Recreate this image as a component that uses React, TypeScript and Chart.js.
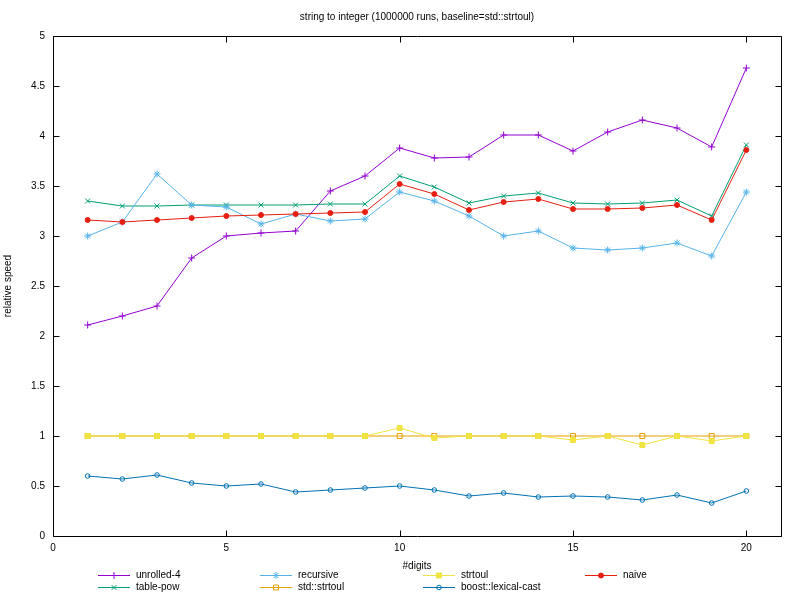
import { useEffect, useRef } from "react"
import { Chart, registerables } from "chart.js"
import { drawPoint } from "chart.js/helpers"

Chart.register(...registerables)

const digits = [1, 2, 3, 4, 5, 6, 7, 8, 9, 10, 11, 12, 13, 14, 15, 16, 17, 18, 19, 20]
const xTicks = [0, 5, 10, 15, 20]

const unrolled4 = [2.11, 2.2, 2.3, 2.78, 3.0, 3.03, 3.05, 3.45, 3.6, 3.88, 3.78, 3.79, 4.01, 4.01, 3.85, 4.04, 4.16, 4.08, 3.89, 4.68]
const tablePow = [3.35, 3.3, 3.3, 3.31, 3.31, 3.31, 3.31, 3.32, 3.32, 3.6, 3.49, 3.33, 3.4, 3.43, 3.33, 3.32, 3.33, 3.36, 3.2, 3.91]
const recursive = [3.0, 3.14, 3.62, 3.31, 3.29, 3.12, 3.22, 3.15, 3.17, 3.44, 3.35, 3.2, 3.0, 3.05, 2.88, 2.86, 2.88, 2.93, 2.8, 3.44]
const stdStrtoul = [1, 1, 1, 1, 1, 1, 1, 1, 1, 1, 1, 1, 1, 1, 1, 1, 1, 1, 1, 1]
const strtoul = [1, 1, 1, 1, 1, 1, 1, 1, 1, 1.08, 0.98, 1, 1, 1, 0.96, 1, 0.91, 1, 0.95, 1]
const boostLexical = [0.6, 0.57, 0.61, 0.53, 0.5, 0.52, 0.44, 0.46, 0.48, 0.5, 0.46, 0.4, 0.43, 0.39, 0.4, 0.39, 0.36, 0.41, 0.33, 0.45]
const naive = [3.16, 3.14, 3.16, 3.18, 3.2, 3.21, 3.22, 3.23, 3.24, 3.52, 3.42, 3.26, 3.34, 3.37, 3.27, 3.27, 3.28, 3.31, 3.16, 3.86]

const FONT = { family: '"Liberation Sans", Arial, sans-serif', size: 10 }

interface SeriesDef {
  label: string
  values: number[]
  color: string
  pointStyle: string
  radius: number
  fill: string
}

const series: SeriesDef[] = [
  { label: "unrolled-4", values: unrolled4, color: "#9400d3", pointStyle: "cross", radius: 3.5, fill: "#9400d3" },
  { label: "table-pow", values: tablePow, color: "#009e73", pointStyle: "crossRot", radius: 3.5, fill: "#009e73" },
  { label: "recursive", values: recursive, color: "#56b4e9", pointStyle: "star", radius: 3.5, fill: "#56b4e9" },
  { label: "std::strtoul", values: stdStrtoul, color: "#e69f00", pointStyle: "rect", radius: 3.5, fill: "rgba(0,0,0,0)" },
  { label: "strtoul", values: strtoul, color: "#f0e442", pointStyle: "rect", radius: 3.5, fill: "#f0e442" },
  { label: "boost::lexical-cast", values: boostLexical, color: "#0072b2", pointStyle: "circle", radius: 2.3, fill: "rgba(0,0,0,0)" },
  { label: "naive", values: naive, color: "#e51e10", pointStyle: "circle", radius: 2.5, fill: "#e51e10" },
]

// gnuplot-style box with inward ticks on all four sides
const framePlugin = {
  id: "frame",
  afterDatasetsDraw(chart: any) {
    const { ctx, chartArea: a, scales } = chart
    const px = (v: number) => Math.round(v) + 0.5
    ctx.save()
    ctx.strokeStyle = "#000"
    ctx.lineWidth = 1
    ctx.beginPath()
    ctx.rect(px(a.left), px(a.top), Math.round(a.right) - Math.round(a.left), Math.round(a.bottom) - Math.round(a.top))
    for (const t of scales.x.ticks) {
      const x = px(scales.x.getPixelForValue(t.value))
      ctx.moveTo(x, px(a.bottom)); ctx.lineTo(x, px(a.bottom) - 6)
      ctx.moveTo(x, px(a.top)); ctx.lineTo(x, px(a.top) + 6)
    }
    for (const t of scales.y.ticks) {
      const y = px(scales.y.getPixelForValue(t.value))
      ctx.moveTo(px(a.left), y); ctx.lineTo(px(a.left) + 6, y)
      ctx.moveTo(px(a.right), y); ctx.lineTo(px(a.right) - 6, y)
    }
    ctx.stroke()
    ctx.restore()
  },
}

// key below the plot, filled column by column (2 rows)
const keyPlugin = {
  id: "key",
  afterDraw(chart: any) {
    const { ctx } = chart
    const colX = [98, 260, 423, 585]
    const rowY = [575, 587]
    ctx.save()
    ctx.font = `${FONT.size}px ${FONT.family}`
    ctx.textBaseline = "middle"
    ctx.textAlign = "left"
    chart.data.datasets.forEach((ds: any, i: number) => {
      const x0 = colX[Math.floor(i / 2)]
      const y = rowY[i % 2] + 0.5
      ctx.strokeStyle = ds.borderColor
      ctx.lineWidth = 1
      ctx.beginPath()
      ctx.moveTo(x0, y)
      ctx.lineTo(x0 + 32, y)
      ctx.stroke()
      ctx.fillStyle = ds.pointBackgroundColor
      drawPoint(ctx, { pointStyle: ds.pointStyle, radius: ds.pointRadius, borderWidth: 1, rotation: 0 }, x0 + 16, y)
      ctx.fillStyle = "#000"
      ctx.fillText(ds.label, x0 + 38, y)
    })
    ctx.restore()
  },
}

export default function App() {
  const canvasRef = useRef<HTMLCanvasElement>(null)
  const chartRef = useRef<Chart | null>(null)

  useEffect(() => {
    if (!canvasRef.current) return
    chartRef.current?.destroy()

    chartRef.current = new Chart(canvasRef.current, {
      type: "line",
      data: {
        datasets: series.map((s, i) => ({
          label: s.label,
          data: digits.map((d, j) => ({ x: d, y: s.values[j] })),
          borderColor: s.color,
          backgroundColor: s.color,
          pointBackgroundColor: s.fill,
          pointBorderColor: s.color,
          pointStyle: s.pointStyle as any,
          pointRadius: s.radius,
          pointBorderWidth: 1,
          borderWidth: 1,
          tension: 0,
          fill: false,
          order: series.length - 1 - i,
        })),
      },
      options: {
        responsive: false,
        animation: false,
        events: [],
        layout: { padding: { top: 0, right: 19, bottom: 0, left: 0 } },
        plugins: {
          legend: { display: false },
          tooltip: { enabled: false },
          title: {
            display: true,
            text: "string to integer (1000000 runs, baseline=std::strtoul)",
            color: "#000",
            font: { ...FONT, weight: "normal" },
            padding: { top: 11, bottom: 13 },
            fullSize: false,
          },
        },
        scales: {
          x: {
            type: "linear",
            min: 0,
            max: 21,
            afterBuildTicks: (s: any) => { s.ticks = xTicks.map(v => ({ value: v })) },
            afterFit: (s: any) => { s.height = 64 },
            grid: { display: false, drawTicks: false },
            border: { display: false },
            ticks: { color: "#000", font: FONT, padding: 6, maxRotation: 0, callback: (v: any) => String(v) },
            title: { display: true, text: "#digits", color: "#000", font: FONT, padding: { top: 0, bottom: 28 } },
          },
          y: {
            min: 0,
            max: 5,
            afterFit: (s: any) => { s.width = 53 },
            grid: { display: false, drawTicks: false },
            border: { display: false },
            ticks: {
              stepSize: 0.5,
              color: "#000",
              font: FONT,
              padding: 8,
              callback: (v: any) => String(Math.round(Number(v) * 10) / 10),
            },
            title: { display: true, text: "relative speed", color: "#000", font: FONT, padding: { top: 2, bottom: 0 } },
          },
        },
      },
      plugins: [framePlugin, keyPlugin],
    })

    return () => { chartRef.current?.destroy() }
  }, [])

  return (
    <div style={{ position: "fixed", left: 0, top: 0, width: 800, height: 600, background: "#fff" }}>
      <canvas ref={canvasRef} width={800} height={600} aria-label="string to integer relative speed chart" role="img" />
    </div>
  )
}
